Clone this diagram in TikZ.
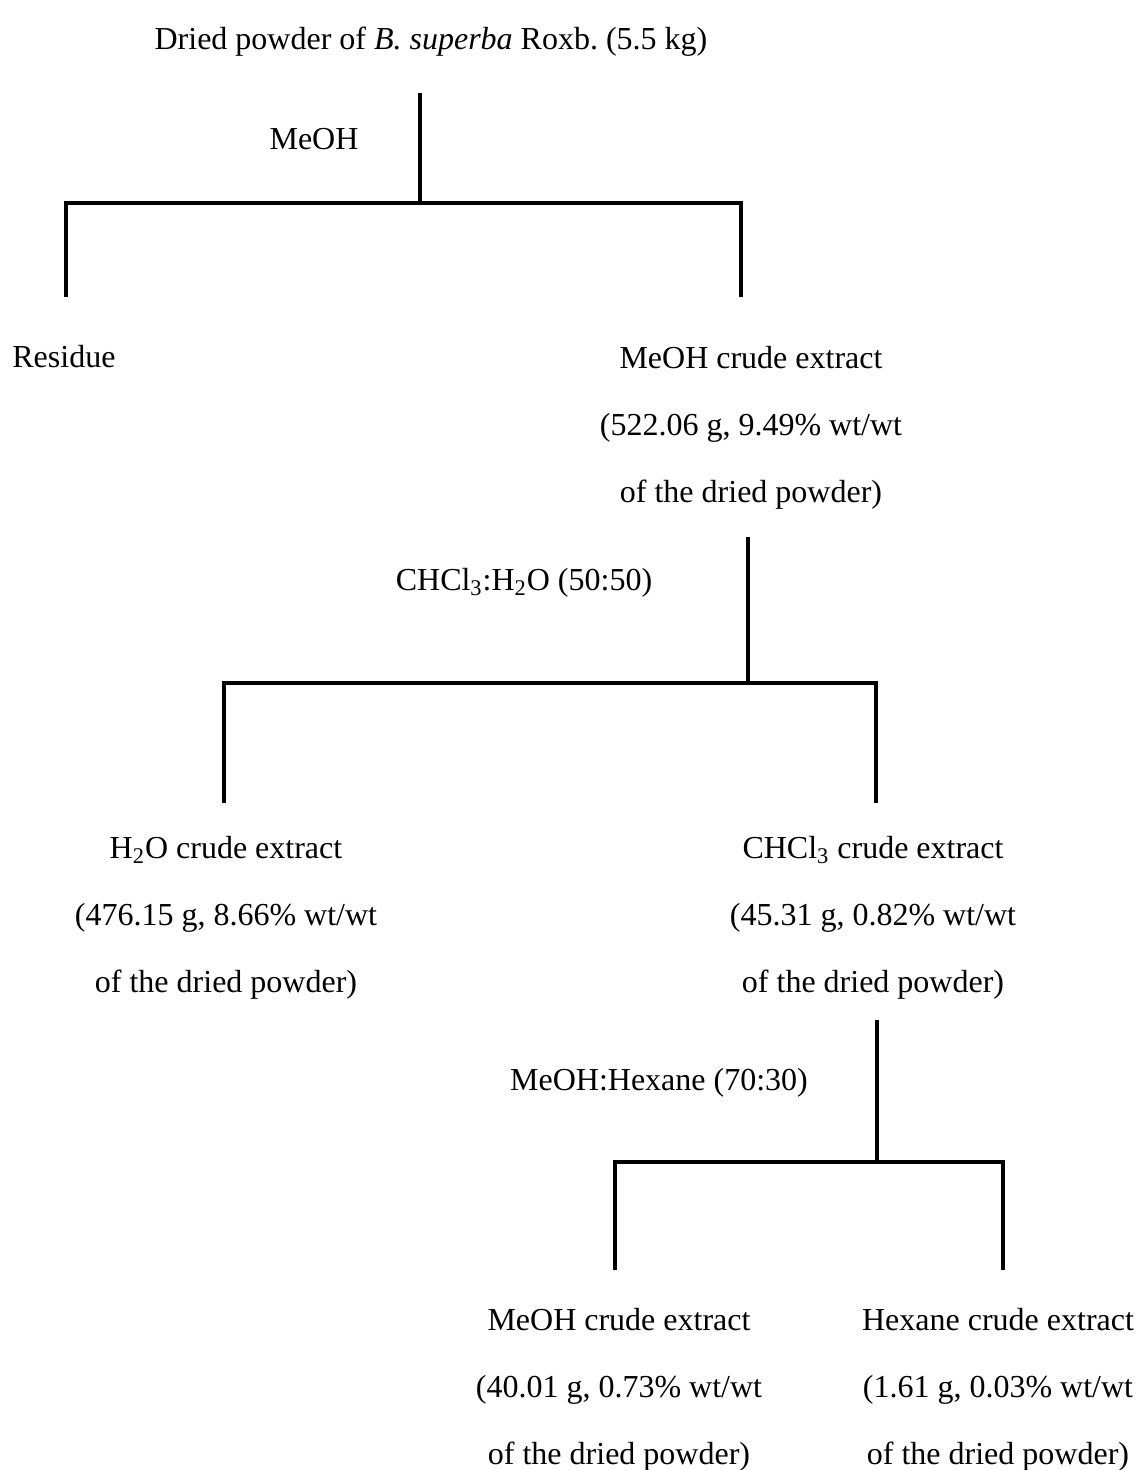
\documentclass[tikz,border=0pt]{standalone}
\usepackage{fontspec}
\setmainfont{Liberation Serif}
\usetikzlibrary{positioning}
\frenchspacing

\tikzset{
  extract/.style={anchor=base, align=center, inner sep=0pt},
  solvent/.style={anchor=base, inner sep=0pt},
  split/.style={line width=2pt, line join=miter},
}

\begin{document}
\begin{tikzpicture}[x=0.5pt, y=-0.5pt,
  every node/.style={font=\fontsize{16}{33.3}\selectfont}]

\path[use as bounding box] (0,0) rectangle (1139,1470);

% Starting material
\node[extract] (powder) at (431,50)
  {Dried powder of \textit{B. superba} Roxb. (5.5 kg)};

% Step 1: MeOH extraction (base = last line)
\node[solvent] (meoh) at (314,150) {MeOH};
\node[extract, anchor=base west] (residue) at (12,368) {Residue};
\node[extract] (meohCrude) at (751,502)
  {MeOH crude extract\\(522.06 g, 9.49\% wt/wt\\of the dried powder)};

% Step 2: CHCl3/H2O partition
\node[solvent] (chclWater) at (524,590)
  {CHCl\textsubscript{3}:H\textsubscript{2}O (50:50)};
\node[extract] (waterCrude) at (226,992)
  {H\textsubscript{2}O crude extract\\(476.15 g, 8.66\% wt/wt\\of the dried powder)};
\node[extract] (chclCrude) at (873,992)
  {CHCl\textsubscript{3} crude extract\\(45.31 g, 0.82\% wt/wt\\of the dried powder)};

% Step 3: MeOH/Hexane partition
\node[solvent] (meohHex) at (659,1090) {MeOH:Hexane (70:30)};
\node[extract] (meohCrude2) at (619,1464)
  {MeOH crude extract\\(40.01 g, 0.73\% wt/wt\\of the dried powder)};
\node[extract] (hexCrude) at (998,1464)
  {Hexane crude extract\\(1.61 g, 0.03\% wt/wt\\of the dried powder)};

% Brackets (stem top / junction / left leg / right leg)
\foreach \n/\xs/\ys/\yj/\xl/\xr/\yl in
  {1/420/93/203/66/741/297,
   2/748/537/683/224/876/803,
   3/877/1020/1162/615/1003/1270} {
  \coordinate (top\n) at (\xs,\ys);
  \coordinate (mid\n) at (\xs,\yj);
  \coordinate (left\n) at (\xl,\yl);
  \coordinate (right\n) at (\xr,\yl);
  \draw[split] (top\n) -- (mid\n);
  \draw[split] (left\n) |- (mid\n) -| (right\n);
}
\end{tikzpicture}
\end{document}
